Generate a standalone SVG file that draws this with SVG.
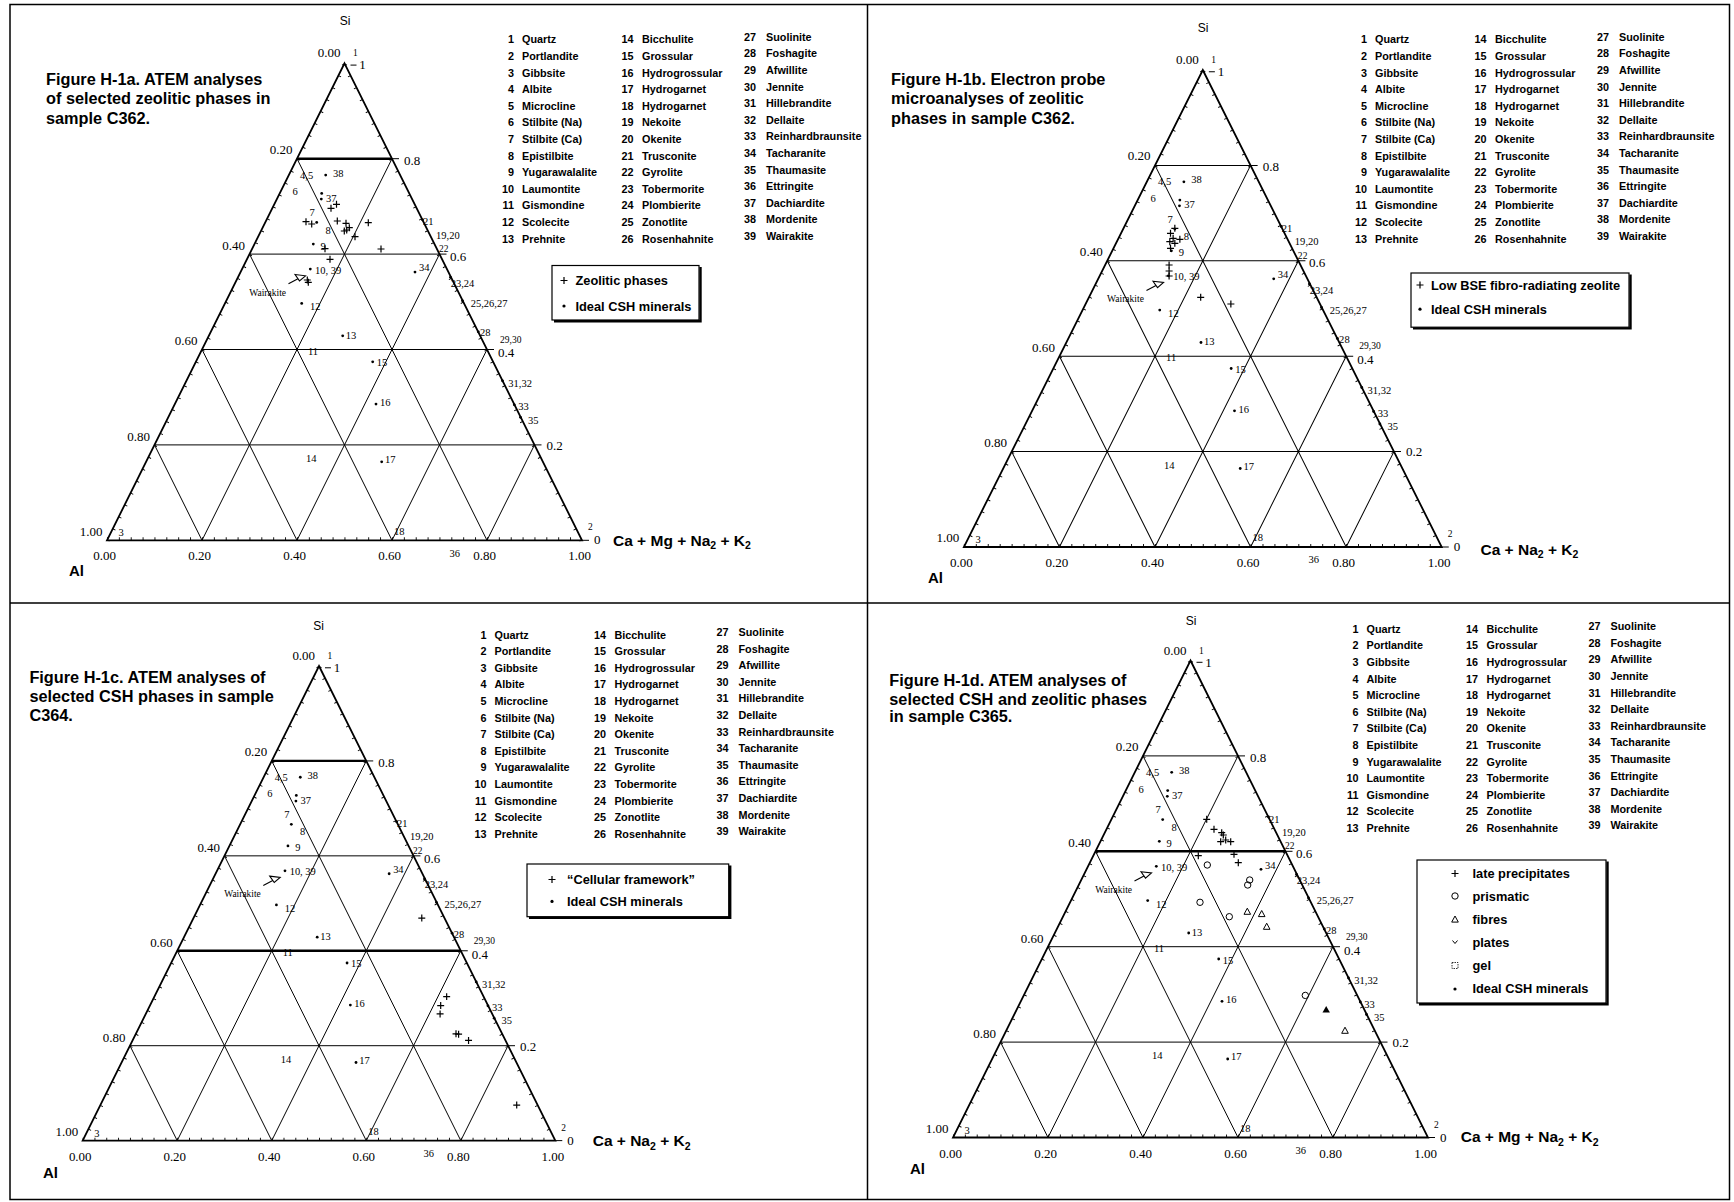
<svg xmlns="http://www.w3.org/2000/svg" xmlns:xlink="http://www.w3.org/1999/xlink" width="1734" height="1202" viewBox="0 0 1734 1202">
<style>
text{fill:#000}
.ttl{font-family:"Liberation Sans",Arial,sans-serif;font-size:16.3px;font-weight:bold;white-space:pre}
.li{font-family:"Liberation Sans",Arial,sans-serif;font-size:10.8px;font-weight:bold}
.lg{font-family:"Liberation Sans",Arial,sans-serif;font-size:12.8px;font-weight:bold}
.ax{font-family:"Liberation Serif","Times New Roman",serif;font-size:13px}
.m{font-family:"Liberation Serif","Times New Roman",serif;font-size:10.5px}
.s{font-size:9.5px}
.lab{font-family:"Liberation Sans",Arial,sans-serif;font-size:15.5px;font-weight:bold}
.sub{font-size:10.5px}
.si{font-family:"Liberation Sans",Arial,sans-serif;font-size:12px;text-anchor:middle}
.al{font-family:"Liberation Sans",Arial,sans-serif;font-size:15px;font-weight:bold}
.ln{fill:none;stroke:#000}
.dot{fill:#000}
.end{text-anchor:end}
.mid{text-anchor:middle}
</style>
<defs>
<g id="grid" fill="none" stroke="#000">
<path stroke-width="1" d="M-47.5,95.4H47.5M-95,190.8H95M-142.5,286.2H142.5M-190,381.6H190M-142.5,477L47.5,95.4M-47.5,477L95,190.8M47.5,477L142.5,286.2M142.5,477L190,381.6M142.5,477L-47.5,95.4M47.5,477L-95,190.8M-47.5,477L-142.5,286.2M-142.5,477L-190,381.6"/>
<path stroke-width="1.8" d="M0,0L237.5,477L-237.5,477Z"/>
<path stroke-width="1" d="M47.5,95.4h7M95,190.8h7M142.5,286.2h7M190,381.6h7M237.5,477h7M6,1.8h6"/>
<path stroke-width="3" stroke-dasharray="0.9 12.42" d="M1.34,0.67L-236.16,477.67"/>
<path stroke-width="3" stroke-dasharray="0.9 12.42" d="M-1.34,0.67L236.16,477.67"/>
<path stroke-width="3" stroke-dasharray="0.9 10.975" d="M-237.5,475.5H237.5"/>
</g>
<path id="p" d="M-3.5,0H3.5M0,-3.5V3.5" fill="none" stroke="#000" stroke-width="1.2"/>
<circle id="o" r="3.2" fill="none" stroke="#000" stroke-width="1"/>
<path id="tr" d="M0,-3.5L3.3,2.6H-3.3Z" fill="none" stroke="#000" stroke-width="1"/>
</defs>
<rect width="1734" height="1202" fill="#fff"/>
<g id="frame" class="ln" stroke-width="1.5">
<rect x="10" y="4.5" width="1719.5" height="1195"/>
<path d="M867.5,4.5V1199.5M10,603H1729.5"/>
</g>

<!-- PANEL A -->
<g id="panel-a">
<g id="title-a" class="ttl"><text x="46" y="84.5">Figure H-1a.  ATEM analyses</text><text x="46" y="104.4">of selected zeolitic phases in</text><text x="46" y="124">sample C362.</text></g>
<g id="list-a" class="li" transform="translate(514,43.4)">
<text class="end"><tspan x="0" y="0">1</tspan><tspan x="0" y="16.6">2</tspan><tspan x="0" y="33.2">3</tspan><tspan x="0" y="49.8">4</tspan><tspan x="0" y="66.4">5</tspan><tspan x="0" y="83">6</tspan><tspan x="0" y="99.6">7</tspan><tspan x="0" y="116.2">8</tspan><tspan x="0" y="132.8">9</tspan><tspan x="0" y="149.4">10</tspan><tspan x="0" y="166">11</tspan><tspan x="0" y="182.6">12</tspan><tspan x="0" y="199.2">13</tspan></text>
<text><tspan x="8" y="0">Quartz</tspan><tspan x="8" y="16.6">Portlandite</tspan><tspan x="8" y="33.2">Gibbsite</tspan><tspan x="8" y="49.8">Albite</tspan><tspan x="8" y="66.4">Microcline</tspan><tspan x="8" y="83">Stilbite (Na)</tspan><tspan x="8" y="99.6">Stilbite (Ca)</tspan><tspan x="8" y="116.2">Epistilbite</tspan><tspan x="8" y="132.8">Yugarawalalite</tspan><tspan x="8" y="149.4">Laumontite</tspan><tspan x="8" y="166">Gismondine</tspan><tspan x="8" y="182.6">Scolecite</tspan><tspan x="8" y="199.2">Prehnite</tspan></text>
<text class="end"><tspan x="119.5" y="0">14</tspan><tspan x="119.5" y="16.6">15</tspan><tspan x="119.5" y="33.2">16</tspan><tspan x="119.5" y="49.8">17</tspan><tspan x="119.5" y="66.4">18</tspan><tspan x="119.5" y="83">19</tspan><tspan x="119.5" y="99.6">20</tspan><tspan x="119.5" y="116.2">21</tspan><tspan x="119.5" y="132.8">22</tspan><tspan x="119.5" y="149.4">23</tspan><tspan x="119.5" y="166">24</tspan><tspan x="119.5" y="182.6">25</tspan><tspan x="119.5" y="199.2">26</tspan></text>
<text><tspan x="128" y="0">Bicchulite</tspan><tspan x="128" y="16.6">Grossular</tspan><tspan x="128" y="33.2">Hydrogrossular</tspan><tspan x="128" y="49.8">Hydrogarnet</tspan><tspan x="128" y="66.4">Hydrogarnet</tspan><tspan x="128" y="83">Nekoite</tspan><tspan x="128" y="99.6">Okenite</tspan><tspan x="128" y="116.2">Trusconite</tspan><tspan x="128" y="132.8">Gyrolite</tspan><tspan x="128" y="149.4">Tobermorite</tspan><tspan x="128" y="166">Plombierite</tspan><tspan x="128" y="182.6">Zonotlite</tspan><tspan x="128" y="199.2">Rosenhahnite</tspan></text>
<text class="end"><tspan x="242" y="-2.5">27</tspan><tspan x="242" y="14.1">28</tspan><tspan x="242" y="30.7">29</tspan><tspan x="242" y="47.3">30</tspan><tspan x="242" y="63.9">31</tspan><tspan x="242" y="80.5">32</tspan><tspan x="242" y="97.1">33</tspan><tspan x="242" y="113.7">34</tspan><tspan x="242" y="130.3">35</tspan><tspan x="242" y="146.9">36</tspan><tspan x="242" y="163.5">37</tspan><tspan x="242" y="180.1">38</tspan><tspan x="242" y="196.7">39</tspan></text>
<text><tspan x="252" y="-2.5">Suolinite</tspan><tspan x="252" y="14.1">Foshagite</tspan><tspan x="252" y="30.7">Afwillite</tspan><tspan x="252" y="47.3">Jennite</tspan><tspan x="252" y="63.9">Hillebrandite</tspan><tspan x="252" y="80.5">Dellaite</tspan><tspan x="252" y="97.1">Reinhardbraunsite</tspan><tspan x="252" y="113.7">Tacharanite</tspan><tspan x="252" y="130.3">Thaumasite</tspan><tspan x="252" y="146.9">Ettringite</tspan><tspan x="252" y="163.5">Dachiardite</tspan><tspan x="252" y="180.1">Mordenite</tspan><tspan x="252" y="196.7">Wairakite</tspan></text>
</g>
<g id="legend-a">
<rect x="552" y="265.5" width="147" height="54.5" fill="#fff" stroke="#000" stroke-width="1.2"/>
<path class="ln" stroke-width="2.4" d="M700.5,267V321.2H554"/>
<use xlink:href="#p" x="564" y="280.5"/><circle class="dot" cx="564" cy="306" r="1.6"/>
<text class="lg" x="575.5" y="285">Zeolitic phases</text>
<text class="lg" x="575.5" y="310.5">Ideal CSH minerals</text>
</g>
<text class="si" x="345" y="25">Si</text>
<text class="al" x="69" y="575.5">Al</text>
<text class="lab" x="613" y="545.5">Ca + Mg + Na<tspan class="sub" dy="3.5">2</tspan><tspan dy="-3.5"> + K</tspan><tspan class="sub" dy="3.5">2</tspan></text>
<g id="tri-a" transform="translate(344.5,63.3)">
<use xlink:href="#grid"/>
<path class="ln" stroke-width="2.4" d="M-47.5,95.4H47.5"/>
<g class="ax">
<text x="-4" y="-6" class="end">0.00</text><text x="14.8" y="6">1</text>
<text x="-52" y="90.5" class="end">0.20</text><text x="-99.5" y="186.5" class="end">0.40</text><text x="-147" y="282" class="end">0.60</text><text x="-194.5" y="377.5" class="end">0.80</text><text x="-242" y="472.5" class="end">1.00</text>
<text x="59.5" y="101.5">0.8</text><text x="105.5" y="197.5">0.6</text><text x="153.5" y="294">0.4</text><text x="202" y="386.5">0.2</text><text x="249.5" y="481">0</text>
<text x="-240" y="497" class="mid">0.00</text><text x="-145" y="497" class="mid">0.20</text><text x="-50" y="497" class="mid">0.40</text><text x="45" y="497" class="mid">0.60</text><text x="140" y="497" class="mid">0.80</text><text x="235" y="497" class="mid">1.00</text>
</g>
<g class="m">
<text x="8.5" y="-7" class="s">1</text><text x="-226" y="473">3</text><text x="243.5" y="467" class="s">2</text>
<text x="-44.5" y="115.5">4,5</text><text x="-11.5" y="113.5">38</text><text x="-52" y="132">6</text><text x="-18.5" y="138.5">37</text>
<text x="-35" y="152.6">7</text><text x="-19" y="170.3">8</text><text x="-24" y="186.3">9</text><text x="-29.5" y="210.3">10, 39</text>
<text x="-95.2" y="232.3" class="s">Wairakite</text><text x="-34.5" y="247">12</text><text x="1.2" y="275.3">13</text><text x="-36.5" y="291.3">11</text>
<text x="32.2" y="303">15</text><text x="35.5" y="342.6">16</text><text x="-38.5" y="398.6">14</text><text x="40.5" y="399.6">17</text>
<text x="49.5" y="471.5">18</text><text x="105" y="493.3">36</text><text x="78.5" y="162">21</text><text x="91.5" y="175.3">19,20</text>
<text x="94.5" y="188.6" class="s">22</text><text x="74.5" y="208">34</text><text x="106.2" y="223.6">23,24</text><text x="126.2" y="243.6">25,26,27</text>
<text x="135.5" y="273">28</text><text x="155.5" y="279.5" class="s">29,30</text><text x="163.8" y="323.6">31,32</text><text x="173.8" y="347">33</text><text x="183.5" y="360.3">35</text>
</g>
<g class="dot"><circle cx="-18.8" cy="111.8" r="1.4"/><circle cx="-22.8" cy="130.1" r="1.4"/><circle cx="-23.2" cy="135.8" r="1.4"/><circle cx="-27.8" cy="159.1" r="1.4"/><circle cx="-31.2" cy="180.8" r="1.4"/><circle cx="-34.2" cy="205.8" r="1.4"/><circle cx="-42.8" cy="240.1" r="1.4"/><circle cx="-1.8" cy="272.5" r="1.4"/><circle cx="28.2" cy="298.5" r="1.4"/><circle cx="31.5" cy="340.8" r="1.4"/><circle cx="37.2" cy="398.5" r="1.4"/><circle cx="70.5" cy="208.8" r="1.4"/><circle cx="78" cy="156.5" r="1.4"/><circle cx="106" cy="214" r="1.4"/><circle cx="118" cy="237.5" r="1.4"/><circle cx="133.8" cy="268.5" r="1.4"/><circle cx="158" cy="317.5" r="1.4"/><circle cx="169.8" cy="341.5" r="1.4"/><circle cx="176" cy="354" r="1.4"/></g>
<path class="ln" stroke-width="1.1" d="M-56,220.5L-46.5,215.5M-49.5,211.2L-39,212.5L-45,217.6Z"/>
<g id="data-a"><use xlink:href="#p" x="-8" y="141"/><use xlink:href="#p" x="-13.5" y="145"/><use xlink:href="#p" x="-38.5" y="158.4"/><use xlink:href="#p" x="-32.8" y="160.7"/><use xlink:href="#p" x="-7.2" y="157.7"/><use xlink:href="#p" x="1.5" y="160"/><use xlink:href="#p" x="2.2" y="166.7"/><use xlink:href="#p" x="-0.2" y="167.7"/><use xlink:href="#p" x="4.8" y="164.4"/><use xlink:href="#p" x="23.8" y="159.4"/><use xlink:href="#p" x="10.5" y="173.4"/><use xlink:href="#p" x="-19.5" y="185.4"/><use xlink:href="#p" x="36.5" y="185.7"/><use xlink:href="#p" x="-14.5" y="196"/><use xlink:href="#p" x="-37.2" y="216.7"/><use xlink:href="#p" x="-36.2" y="219"/></g>
</g>
</g>

<!-- PANEL B -->
<g id="panel-b">
<g id="title-b" class="ttl"><text x="891" y="85.2">Figure H-1b. Electron probe</text><text x="891" y="104.4">microanalyses of zeolitic</text><text x="891" y="123.5">phases in sample C362.</text></g>
<g id="list-b" class="li" transform="translate(1367,43.4)">
<text class="end"><tspan x="0" y="0">1</tspan><tspan x="0" y="16.6">2</tspan><tspan x="0" y="33.2">3</tspan><tspan x="0" y="49.8">4</tspan><tspan x="0" y="66.4">5</tspan><tspan x="0" y="83">6</tspan><tspan x="0" y="99.6">7</tspan><tspan x="0" y="116.2">8</tspan><tspan x="0" y="132.8">9</tspan><tspan x="0" y="149.4">10</tspan><tspan x="0" y="166">11</tspan><tspan x="0" y="182.6">12</tspan><tspan x="0" y="199.2">13</tspan></text>
<text><tspan x="8" y="0">Quartz</tspan><tspan x="8" y="16.6">Portlandite</tspan><tspan x="8" y="33.2">Gibbsite</tspan><tspan x="8" y="49.8">Albite</tspan><tspan x="8" y="66.4">Microcline</tspan><tspan x="8" y="83">Stilbite (Na)</tspan><tspan x="8" y="99.6">Stilbite (Ca)</tspan><tspan x="8" y="116.2">Epistilbite</tspan><tspan x="8" y="132.8">Yugarawalalite</tspan><tspan x="8" y="149.4">Laumontite</tspan><tspan x="8" y="166">Gismondine</tspan><tspan x="8" y="182.6">Scolecite</tspan><tspan x="8" y="199.2">Prehnite</tspan></text>
<text class="end"><tspan x="119.5" y="0">14</tspan><tspan x="119.5" y="16.6">15</tspan><tspan x="119.5" y="33.2">16</tspan><tspan x="119.5" y="49.8">17</tspan><tspan x="119.5" y="66.4">18</tspan><tspan x="119.5" y="83">19</tspan><tspan x="119.5" y="99.6">20</tspan><tspan x="119.5" y="116.2">21</tspan><tspan x="119.5" y="132.8">22</tspan><tspan x="119.5" y="149.4">23</tspan><tspan x="119.5" y="166">24</tspan><tspan x="119.5" y="182.6">25</tspan><tspan x="119.5" y="199.2">26</tspan></text>
<text><tspan x="128" y="0">Bicchulite</tspan><tspan x="128" y="16.6">Grossular</tspan><tspan x="128" y="33.2">Hydrogrossular</tspan><tspan x="128" y="49.8">Hydrogarnet</tspan><tspan x="128" y="66.4">Hydrogarnet</tspan><tspan x="128" y="83">Nekoite</tspan><tspan x="128" y="99.6">Okenite</tspan><tspan x="128" y="116.2">Trusconite</tspan><tspan x="128" y="132.8">Gyrolite</tspan><tspan x="128" y="149.4">Tobermorite</tspan><tspan x="128" y="166">Plombierite</tspan><tspan x="128" y="182.6">Zonotlite</tspan><tspan x="128" y="199.2">Rosenhahnite</tspan></text>
<text class="end"><tspan x="242" y="-2.5">27</tspan><tspan x="242" y="14.1">28</tspan><tspan x="242" y="30.7">29</tspan><tspan x="242" y="47.3">30</tspan><tspan x="242" y="63.9">31</tspan><tspan x="242" y="80.5">32</tspan><tspan x="242" y="97.1">33</tspan><tspan x="242" y="113.7">34</tspan><tspan x="242" y="130.3">35</tspan><tspan x="242" y="146.9">36</tspan><tspan x="242" y="163.5">37</tspan><tspan x="242" y="180.1">38</tspan><tspan x="242" y="196.7">39</tspan></text>
<text><tspan x="252" y="-2.5">Suolinite</tspan><tspan x="252" y="14.1">Foshagite</tspan><tspan x="252" y="30.7">Afwillite</tspan><tspan x="252" y="47.3">Jennite</tspan><tspan x="252" y="63.9">Hillebrandite</tspan><tspan x="252" y="80.5">Dellaite</tspan><tspan x="252" y="97.1">Reinhardbraunsite</tspan><tspan x="252" y="113.7">Tacharanite</tspan><tspan x="252" y="130.3">Thaumasite</tspan><tspan x="252" y="146.9">Ettringite</tspan><tspan x="252" y="163.5">Dachiardite</tspan><tspan x="252" y="180.1">Mordenite</tspan><tspan x="252" y="196.7">Wairakite</tspan></text>
</g>
<g id="legend-b">
<rect x="1411" y="273" width="218" height="54.2" fill="#fff" stroke="#000" stroke-width="1.2"/>
<path class="ln" stroke-width="2.4" d="M1630.5,274.5V328.4H1413"/>
<use xlink:href="#p" x="1420" y="285"/><circle class="dot" cx="1420" cy="309.2" r="1.6"/>
<text class="lg" x="1431" y="289.5">Low BSE fibro-radiating zeolite</text>
<text class="lg" x="1431" y="313.7">Ideal CSH minerals</text>
</g>
<text class="si" x="1203" y="32">Si</text>
<text class="al" x="928" y="583">Al</text>
<text class="lab" x="1480.5" y="554.7">Ca + Na<tspan class="sub" dy="3.5">2</tspan><tspan dy="-3.5"> + K</tspan><tspan class="sub" dy="3.5">2</tspan></text>
<g id="tri-b" transform="translate(1202.8,70) scale(1.006,1)">
<use xlink:href="#grid"/>
<g class="ax">
<text x="-4" y="-6" class="end">0.00</text><text x="14.8" y="6">1</text>
<text x="-52" y="90.5" class="end">0.20</text><text x="-99.5" y="186.5" class="end">0.40</text><text x="-147" y="282" class="end">0.60</text><text x="-194.5" y="377.5" class="end">0.80</text><text x="-242" y="472.5" class="end">1.00</text>
<text x="59.5" y="101.5">0.8</text><text x="105.5" y="197.5">0.6</text><text x="153.5" y="294">0.4</text><text x="202" y="386.5">0.2</text><text x="249.5" y="481">0</text>
<text x="-240" y="497" class="mid">0.00</text><text x="-145" y="497" class="mid">0.20</text><text x="-50" y="497" class="mid">0.40</text><text x="45" y="497" class="mid">0.60</text><text x="140" y="497" class="mid">0.80</text><text x="235" y="497" class="mid">1.00</text>
</g>
<g class="m">
<text x="8.5" y="-7" class="s">1</text><text x="-226" y="473">3</text><text x="243.5" y="467" class="s">2</text>
<text x="-44.5" y="115.5">4,5</text><text x="-11.5" y="113.5">38</text><text x="-52" y="132">6</text><text x="-18.5" y="138.5">37</text>
<text x="-35" y="152.6">7</text><text x="-19" y="170.3">8</text><text x="-24" y="186.3">9</text><text x="-29.5" y="210.3">10, 39</text>
<text x="-95.2" y="232.3" class="s">Wairakite</text><text x="-34.5" y="247">12</text><text x="1.2" y="275.3">13</text><text x="-36.5" y="291.3">11</text>
<text x="32.2" y="303">15</text><text x="35.5" y="342.6">16</text><text x="-38.5" y="398.6">14</text><text x="40.5" y="399.6">17</text>
<text x="49.5" y="471.5">18</text><text x="105" y="493.3">36</text><text x="78.5" y="162">21</text><text x="91.5" y="175.3">19,20</text>
<text x="94.5" y="188.6" class="s">22</text><text x="74.5" y="208">34</text><text x="106.2" y="223.6">23,24</text><text x="126.2" y="243.6">25,26,27</text>
<text x="135.5" y="273">28</text><text x="155.5" y="279.5" class="s">29,30</text><text x="163.8" y="323.6">31,32</text><text x="173.8" y="347">33</text><text x="183.5" y="360.3">35</text>
</g>
<g class="dot"><circle cx="-18.8" cy="111.8" r="1.4"/><circle cx="-22.8" cy="130.1" r="1.4"/><circle cx="-23.2" cy="135.8" r="1.4"/><circle cx="-27.8" cy="159.1" r="1.4"/><circle cx="-31.2" cy="180.8" r="1.4"/><circle cx="-34.2" cy="205.8" r="1.4"/><circle cx="-42.8" cy="240.1" r="1.4"/><circle cx="-1.8" cy="272.5" r="1.4"/><circle cx="28.2" cy="298.5" r="1.4"/><circle cx="31.5" cy="340.8" r="1.4"/><circle cx="37.2" cy="398.5" r="1.4"/><circle cx="70.5" cy="208.8" r="1.4"/><circle cx="78" cy="156.5" r="1.4"/><circle cx="106" cy="214" r="1.4"/><circle cx="118" cy="237.5" r="1.4"/><circle cx="133.8" cy="268.5" r="1.4"/><circle cx="158" cy="317.5" r="1.4"/><circle cx="169.8" cy="341.5" r="1.4"/><circle cx="176" cy="354" r="1.4"/></g>
<path class="ln" stroke-width="1.1" d="M-56,220.5L-46.5,215.5M-49.5,211.2L-39,212.5L-45,217.6Z"/>
<g id="data-b"><use xlink:href="#p" x="-27.8" y="158.3"/><use xlink:href="#p" x="-32.1" y="163.3"/><use xlink:href="#p" x="-29.5" y="168.3"/><use xlink:href="#p" x="-32.8" y="171.7"/><use xlink:href="#p" x="-27.8" y="173.3"/><use xlink:href="#p" x="-22.8" y="169.3"/><use xlink:href="#p" x="-32.1" y="178.3"/><use xlink:href="#p" x="-33.5" y="195"/><use xlink:href="#p" x="-33.5" y="201"/><use xlink:href="#p" x="-33.5" y="206"/><use xlink:href="#p" x="-2.1" y="227.3"/><use xlink:href="#p" x="27.9" y="234"/></g>
</g>
</g>

<!-- PANEL C -->
<g id="panel-c">
<g id="title-c" class="ttl"><text x="29.4" y="682.8">Figure H-1c.  ATEM analyses of</text><text x="29.4" y="702">selected CSH phases in sample</text><text x="29.4" y="721.2">C364.</text></g>
<g id="list-c" class="li" transform="translate(486.5,638.6)">
<text class="end"><tspan x="0" y="0">1</tspan><tspan x="0" y="16.6">2</tspan><tspan x="0" y="33.2">3</tspan><tspan x="0" y="49.8">4</tspan><tspan x="0" y="66.4">5</tspan><tspan x="0" y="83">6</tspan><tspan x="0" y="99.6">7</tspan><tspan x="0" y="116.2">8</tspan><tspan x="0" y="132.8">9</tspan><tspan x="0" y="149.4">10</tspan><tspan x="0" y="166">11</tspan><tspan x="0" y="182.6">12</tspan><tspan x="0" y="199.2">13</tspan></text>
<text><tspan x="8" y="0">Quartz</tspan><tspan x="8" y="16.6">Portlandite</tspan><tspan x="8" y="33.2">Gibbsite</tspan><tspan x="8" y="49.8">Albite</tspan><tspan x="8" y="66.4">Microcline</tspan><tspan x="8" y="83">Stilbite (Na)</tspan><tspan x="8" y="99.6">Stilbite (Ca)</tspan><tspan x="8" y="116.2">Epistilbite</tspan><tspan x="8" y="132.8">Yugarawalalite</tspan><tspan x="8" y="149.4">Laumontite</tspan><tspan x="8" y="166">Gismondine</tspan><tspan x="8" y="182.6">Scolecite</tspan><tspan x="8" y="199.2">Prehnite</tspan></text>
<text class="end"><tspan x="119.5" y="0">14</tspan><tspan x="119.5" y="16.6">15</tspan><tspan x="119.5" y="33.2">16</tspan><tspan x="119.5" y="49.8">17</tspan><tspan x="119.5" y="66.4">18</tspan><tspan x="119.5" y="83">19</tspan><tspan x="119.5" y="99.6">20</tspan><tspan x="119.5" y="116.2">21</tspan><tspan x="119.5" y="132.8">22</tspan><tspan x="119.5" y="149.4">23</tspan><tspan x="119.5" y="166">24</tspan><tspan x="119.5" y="182.6">25</tspan><tspan x="119.5" y="199.2">26</tspan></text>
<text><tspan x="128" y="0">Bicchulite</tspan><tspan x="128" y="16.6">Grossular</tspan><tspan x="128" y="33.2">Hydrogrossular</tspan><tspan x="128" y="49.8">Hydrogarnet</tspan><tspan x="128" y="66.4">Hydrogarnet</tspan><tspan x="128" y="83">Nekoite</tspan><tspan x="128" y="99.6">Okenite</tspan><tspan x="128" y="116.2">Trusconite</tspan><tspan x="128" y="132.8">Gyrolite</tspan><tspan x="128" y="149.4">Tobermorite</tspan><tspan x="128" y="166">Plombierite</tspan><tspan x="128" y="182.6">Zonotlite</tspan><tspan x="128" y="199.2">Rosenhahnite</tspan></text>
<text class="end"><tspan x="242" y="-2.5">27</tspan><tspan x="242" y="14.1">28</tspan><tspan x="242" y="30.7">29</tspan><tspan x="242" y="47.3">30</tspan><tspan x="242" y="63.9">31</tspan><tspan x="242" y="80.5">32</tspan><tspan x="242" y="97.1">33</tspan><tspan x="242" y="113.7">34</tspan><tspan x="242" y="130.3">35</tspan><tspan x="242" y="146.9">36</tspan><tspan x="242" y="163.5">37</tspan><tspan x="242" y="180.1">38</tspan><tspan x="242" y="196.7">39</tspan></text>
<text><tspan x="252" y="-2.5">Suolinite</tspan><tspan x="252" y="14.1">Foshagite</tspan><tspan x="252" y="30.7">Afwillite</tspan><tspan x="252" y="47.3">Jennite</tspan><tspan x="252" y="63.9">Hillebrandite</tspan><tspan x="252" y="80.5">Dellaite</tspan><tspan x="252" y="97.1">Reinhardbraunsite</tspan><tspan x="252" y="113.7">Tacharanite</tspan><tspan x="252" y="130.3">Thaumasite</tspan><tspan x="252" y="146.9">Ettringite</tspan><tspan x="252" y="163.5">Dachiardite</tspan><tspan x="252" y="180.1">Mordenite</tspan><tspan x="252" y="196.7">Wairakite</tspan></text>
</g>
<g id="legend-c">
<rect x="527" y="864" width="201.7" height="52.7" fill="#fff" stroke="#000" stroke-width="1.2"/>
<path class="ln" stroke-width="2.4" d="M730.2,865.5V917.9H529"/>
<use xlink:href="#p" x="552" y="879.5"/><circle class="dot" cx="552" cy="901.4" r="1.6"/>
<text class="lg" x="567" y="884">“Cellular framework”</text>
<text class="lg" x="567" y="906">Ideal CSH minerals</text>
</g>
<text class="si" x="318.5" y="630">Si</text>
<text class="al" x="43" y="1177.5">Al</text>
<text class="lab" x="592.7" y="1146">Ca + Na<tspan class="sub" dy="3.5">2</tspan><tspan dy="-3.5"> + K</tspan><tspan class="sub" dy="3.5">2</tspan></text>
<g id="tri-c" transform="translate(319,666) scale(0.995)">
<use xlink:href="#grid"/>
<path class="ln" stroke-width="2.4" d="M-47.5,95.4H47.5M-142.5,286.2H142.5"/>
<g class="ax">
<text x="-4" y="-6" class="end">0.00</text><text x="14.8" y="6">1</text>
<text x="-52" y="90.5" class="end">0.20</text><text x="-99.5" y="186.5" class="end">0.40</text><text x="-147" y="282" class="end">0.60</text><text x="-194.5" y="377.5" class="end">0.80</text><text x="-242" y="472.5" class="end">1.00</text>
<text x="59.5" y="101.5">0.8</text><text x="105.5" y="197.5">0.6</text><text x="153.5" y="294">0.4</text><text x="202" y="386.5">0.2</text><text x="249.5" y="481">0</text>
<text x="-240" y="497" class="mid">0.00</text><text x="-145" y="497" class="mid">0.20</text><text x="-50" y="497" class="mid">0.40</text><text x="45" y="497" class="mid">0.60</text><text x="140" y="497" class="mid">0.80</text><text x="235" y="497" class="mid">1.00</text>
</g>
<g class="m">
<text x="8.5" y="-7" class="s">1</text><text x="-226" y="473">3</text><text x="243.5" y="467" class="s">2</text>
<text x="-44.5" y="115.5">4,5</text><text x="-11.5" y="113.5">38</text><text x="-52" y="132">6</text><text x="-18.5" y="138.5">37</text>
<text x="-35" y="152.6">7</text><text x="-19" y="170.3">8</text><text x="-24" y="186.3">9</text><text x="-29.5" y="210.3">10, 39</text>
<text x="-95.2" y="232.3" class="s">Wairakite</text><text x="-34.5" y="247">12</text><text x="1.2" y="275.3">13</text><text x="-36.5" y="291.3">11</text>
<text x="32.2" y="303">15</text><text x="35.5" y="342.6">16</text><text x="-38.5" y="398.6">14</text><text x="40.5" y="399.6">17</text>
<text x="49.5" y="471.5">18</text><text x="105" y="493.3">36</text><text x="78.5" y="162">21</text><text x="91.5" y="175.3">19,20</text>
<text x="94.5" y="188.6" class="s">22</text><text x="74.5" y="208">34</text><text x="106.2" y="223.6">23,24</text><text x="126.2" y="243.6">25,26,27</text>
<text x="135.5" y="273">28</text><text x="155.5" y="279.5" class="s">29,30</text><text x="163.8" y="323.6">31,32</text><text x="173.8" y="347">33</text><text x="183.5" y="360.3">35</text>
</g>
<g class="dot"><circle cx="-18.8" cy="111.8" r="1.4"/><circle cx="-22.8" cy="130.1" r="1.4"/><circle cx="-23.2" cy="135.8" r="1.4"/><circle cx="-27.8" cy="159.1" r="1.4"/><circle cx="-31.2" cy="180.8" r="1.4"/><circle cx="-34.2" cy="205.8" r="1.4"/><circle cx="-42.8" cy="240.1" r="1.4"/><circle cx="-1.8" cy="272.5" r="1.4"/><circle cx="28.2" cy="298.5" r="1.4"/><circle cx="31.5" cy="340.8" r="1.4"/><circle cx="37.2" cy="398.5" r="1.4"/><circle cx="70.5" cy="208.8" r="1.4"/><circle cx="78" cy="156.5" r="1.4"/><circle cx="106" cy="214" r="1.4"/><circle cx="118" cy="237.5" r="1.4"/><circle cx="133.8" cy="268.5" r="1.4"/><circle cx="158" cy="317.5" r="1.4"/><circle cx="169.8" cy="341.5" r="1.4"/><circle cx="176" cy="354" r="1.4"/></g>
<path class="ln" stroke-width="1.1" d="M-56,220.5L-46.5,215.5M-49.5,211.2L-39,212.5L-45,217.6Z"/>
<g id="data-c"><use xlink:href="#p" x="103.3" y="253.3"/><use xlink:href="#p" x="128.3" y="332.3"/><use xlink:href="#p" x="122.3" y="341.3"/><use xlink:href="#p" x="121.7" y="349.7"/><use xlink:href="#p" x="137.7" y="369.7"/><use xlink:href="#p" x="140.3" y="370"/><use xlink:href="#p" x="150.3" y="376.3"/><use xlink:href="#p" x="198.7" y="441.3"/></g>
</g>
</g>

<!-- PANEL D -->
<g id="panel-d">
<g id="title-d" class="ttl"><text x="889.3" y="685.5">Figure H-1d.  ATEM analyses of</text><text x="889.3" y="704.7">selected CSH and zeolitic phases</text><text x="889.3" y="722">in sample C365.</text></g>
<g id="list-d" class="li" transform="translate(1358.5,632.8)">
<text class="end"><tspan x="0" y="0">1</tspan><tspan x="0" y="16.6">2</tspan><tspan x="0" y="33.2">3</tspan><tspan x="0" y="49.8">4</tspan><tspan x="0" y="66.4">5</tspan><tspan x="0" y="83">6</tspan><tspan x="0" y="99.6">7</tspan><tspan x="0" y="116.2">8</tspan><tspan x="0" y="132.8">9</tspan><tspan x="0" y="149.4">10</tspan><tspan x="0" y="166">11</tspan><tspan x="0" y="182.6">12</tspan><tspan x="0" y="199.2">13</tspan></text>
<text><tspan x="8" y="0">Quartz</tspan><tspan x="8" y="16.6">Portlandite</tspan><tspan x="8" y="33.2">Gibbsite</tspan><tspan x="8" y="49.8">Albite</tspan><tspan x="8" y="66.4">Microcline</tspan><tspan x="8" y="83">Stilbite (Na)</tspan><tspan x="8" y="99.6">Stilbite (Ca)</tspan><tspan x="8" y="116.2">Epistilbite</tspan><tspan x="8" y="132.8">Yugarawalalite</tspan><tspan x="8" y="149.4">Laumontite</tspan><tspan x="8" y="166">Gismondine</tspan><tspan x="8" y="182.6">Scolecite</tspan><tspan x="8" y="199.2">Prehnite</tspan></text>
<text class="end"><tspan x="119.5" y="0">14</tspan><tspan x="119.5" y="16.6">15</tspan><tspan x="119.5" y="33.2">16</tspan><tspan x="119.5" y="49.8">17</tspan><tspan x="119.5" y="66.4">18</tspan><tspan x="119.5" y="83">19</tspan><tspan x="119.5" y="99.6">20</tspan><tspan x="119.5" y="116.2">21</tspan><tspan x="119.5" y="132.8">22</tspan><tspan x="119.5" y="149.4">23</tspan><tspan x="119.5" y="166">24</tspan><tspan x="119.5" y="182.6">25</tspan><tspan x="119.5" y="199.2">26</tspan></text>
<text><tspan x="128" y="0">Bicchulite</tspan><tspan x="128" y="16.6">Grossular</tspan><tspan x="128" y="33.2">Hydrogrossular</tspan><tspan x="128" y="49.8">Hydrogarnet</tspan><tspan x="128" y="66.4">Hydrogarnet</tspan><tspan x="128" y="83">Nekoite</tspan><tspan x="128" y="99.6">Okenite</tspan><tspan x="128" y="116.2">Trusconite</tspan><tspan x="128" y="132.8">Gyrolite</tspan><tspan x="128" y="149.4">Tobermorite</tspan><tspan x="128" y="166">Plombierite</tspan><tspan x="128" y="182.6">Zonotlite</tspan><tspan x="128" y="199.2">Rosenhahnite</tspan></text>
<text class="end"><tspan x="242" y="-2.5">27</tspan><tspan x="242" y="14.1">28</tspan><tspan x="242" y="30.7">29</tspan><tspan x="242" y="47.3">30</tspan><tspan x="242" y="63.9">31</tspan><tspan x="242" y="80.5">32</tspan><tspan x="242" y="97.1">33</tspan><tspan x="242" y="113.7">34</tspan><tspan x="242" y="130.3">35</tspan><tspan x="242" y="146.9">36</tspan><tspan x="242" y="163.5">37</tspan><tspan x="242" y="180.1">38</tspan><tspan x="242" y="196.7">39</tspan></text>
<text><tspan x="252" y="-2.5">Suolinite</tspan><tspan x="252" y="14.1">Foshagite</tspan><tspan x="252" y="30.7">Afwillite</tspan><tspan x="252" y="47.3">Jennite</tspan><tspan x="252" y="63.9">Hillebrandite</tspan><tspan x="252" y="80.5">Dellaite</tspan><tspan x="252" y="97.1">Reinhardbraunsite</tspan><tspan x="252" y="113.7">Tacharanite</tspan><tspan x="252" y="130.3">Thaumasite</tspan><tspan x="252" y="146.9">Ettringite</tspan><tspan x="252" y="163.5">Dachiardite</tspan><tspan x="252" y="180.1">Mordenite</tspan><tspan x="252" y="196.7">Wairakite</tspan></text>
</g>
<g id="legend-d">
<rect x="1417" y="860" width="189" height="143" fill="#fff" stroke="#000" stroke-width="1.2"/>
<path class="ln" stroke-width="2.4" d="M1607.5,861.5V1004.2H1419"/>
<use xlink:href="#p" x="1455" y="873.5"/>
<use xlink:href="#o" x="1455" y="896"/>
<use xlink:href="#tr" x="1455" y="919.5"/>
<path class="ln" stroke-width="1" d="M1452.5,940.5L1455,943.5L1457.5,940.5"/>
<rect x="1452" y="962.5" width="6" height="6" fill="none" stroke="#000" stroke-width="0.8" stroke-dasharray="1.5 1"/>
<circle class="dot" cx="1455" cy="989" r="1.6"/>
<text class="lg" x="1472.5" y="878">late precipitates</text>
<text class="lg" x="1472.5" y="900.5">prismatic</text>
<text class="lg" x="1472.5" y="924">fibres</text>
<text class="lg" x="1472.5" y="946.5">plates</text>
<text class="lg" x="1472.5" y="969.5">gel</text>
<text class="lg" x="1472.5" y="993">Ideal CSH minerals</text>
</g>
<text class="si" x="1191" y="625">Si</text>
<text class="al" x="910" y="1173.5">Al</text>
<text class="lab" x="1460.7" y="1142">Ca + Mg + Na<tspan class="sub" dy="3.5">2</tspan><tspan dy="-3.5"> + K</tspan><tspan class="sub" dy="3.5">2</tspan></text>
<g id="tri-d" transform="translate(1190.5,660.5)">
<use xlink:href="#grid"/>
<path class="ln" stroke-width="2.4" d="M-95,190.8H95"/>
<g class="ax">
<text x="-4" y="-6" class="end">0.00</text><text x="14.8" y="6">1</text>
<text x="-52" y="90.5" class="end">0.20</text><text x="-99.5" y="186.5" class="end">0.40</text><text x="-147" y="282" class="end">0.60</text><text x="-194.5" y="377.5" class="end">0.80</text><text x="-242" y="472.5" class="end">1.00</text>
<text x="59.5" y="101.5">0.8</text><text x="105.5" y="197.5">0.6</text><text x="153.5" y="294">0.4</text><text x="202" y="386.5">0.2</text><text x="249.5" y="481">0</text>
<text x="-240" y="497" class="mid">0.00</text><text x="-145" y="497" class="mid">0.20</text><text x="-50" y="497" class="mid">0.40</text><text x="45" y="497" class="mid">0.60</text><text x="140" y="497" class="mid">0.80</text><text x="235" y="497" class="mid">1.00</text>
</g>
<g class="m">
<text x="8.5" y="-7" class="s">1</text><text x="-226" y="473">3</text><text x="243.5" y="467" class="s">2</text>
<text x="-44.5" y="115.5">4,5</text><text x="-11.5" y="113.5">38</text><text x="-52" y="132">6</text><text x="-18.5" y="138.5">37</text>
<text x="-35" y="152.6">7</text><text x="-19" y="170.3">8</text><text x="-24" y="186.3">9</text><text x="-29.5" y="210.3">10, 39</text>
<text x="-95.2" y="232.3" class="s">Wairakite</text><text x="-34.5" y="247">12</text><text x="1.2" y="275.3">13</text><text x="-36.5" y="291.3">11</text>
<text x="32.2" y="303">15</text><text x="35.5" y="342.6">16</text><text x="-38.5" y="398.6">14</text><text x="40.5" y="399.6">17</text>
<text x="49.5" y="471.5">18</text><text x="105" y="493.3">36</text><text x="78.5" y="162">21</text><text x="91.5" y="175.3">19,20</text>
<text x="94.5" y="188.6" class="s">22</text><text x="74.5" y="208">34</text><text x="106.2" y="223.6">23,24</text><text x="126.2" y="243.6">25,26,27</text>
<text x="135.5" y="273">28</text><text x="155.5" y="279.5" class="s">29,30</text><text x="163.8" y="323.6">31,32</text><text x="173.8" y="347">33</text><text x="183.5" y="360.3">35</text>
</g>
<g class="dot"><circle cx="-18.8" cy="111.8" r="1.4"/><circle cx="-22.8" cy="130.1" r="1.4"/><circle cx="-23.2" cy="135.8" r="1.4"/><circle cx="-27.8" cy="159.1" r="1.4"/><circle cx="-31.2" cy="180.8" r="1.4"/><circle cx="-34.2" cy="205.8" r="1.4"/><circle cx="-42.8" cy="240.1" r="1.4"/><circle cx="-1.8" cy="272.5" r="1.4"/><circle cx="28.2" cy="298.5" r="1.4"/><circle cx="31.5" cy="340.8" r="1.4"/><circle cx="37.2" cy="398.5" r="1.4"/><circle cx="70.5" cy="208.8" r="1.4"/><circle cx="78" cy="156.5" r="1.4"/><circle cx="106" cy="214" r="1.4"/><circle cx="118" cy="237.5" r="1.4"/><circle cx="133.8" cy="268.5" r="1.4"/><circle cx="158" cy="317.5" r="1.4"/><circle cx="169.8" cy="341.5" r="1.4"/><circle cx="176" cy="354" r="1.4"/></g>
<path class="ln" stroke-width="1.1" d="M-56,220.5L-46.5,215.5M-49.5,211.2L-39,212.5L-45,217.6Z"/>
<g id="data-d">
<use xlink:href="#p" x="16.2" y="158.8"/><use xlink:href="#p" x="23.5" y="168.8"/><use xlink:href="#p" x="31.2" y="172.2"/><use xlink:href="#p" x="32.8" y="174.5"/><use xlink:href="#p" x="30.2" y="181.2"/><use xlink:href="#p" x="35.2" y="179.5"/><use xlink:href="#p" x="40.2" y="181.2"/><use xlink:href="#p" x="7.8" y="195.2"/><use xlink:href="#p" x="43.5" y="193.8"/><use xlink:href="#p" x="47.8" y="202.2"/>
<use xlink:href="#o" x="16.8" y="204.5"/><use xlink:href="#o" x="59.2" y="219.5"/><use xlink:href="#o" x="57.2" y="224.5"/><use xlink:href="#o" x="9.5" y="241.8"/><use xlink:href="#o" x="38.8" y="256.2"/>
<use xlink:href="#tr" x="56.8" y="251.2"/><use xlink:href="#tr" x="71.2" y="253.5"/><use xlink:href="#tr" x="76.2" y="266.2"/>
<use xlink:href="#o" x="114.8" y="334.9"/><path d="M132,352L135.7,345.5L139.4,352Z" fill="#000"/><use xlink:href="#tr" x="154.5" y="370.2"/>
</g>
</g>
</g>
</svg>
